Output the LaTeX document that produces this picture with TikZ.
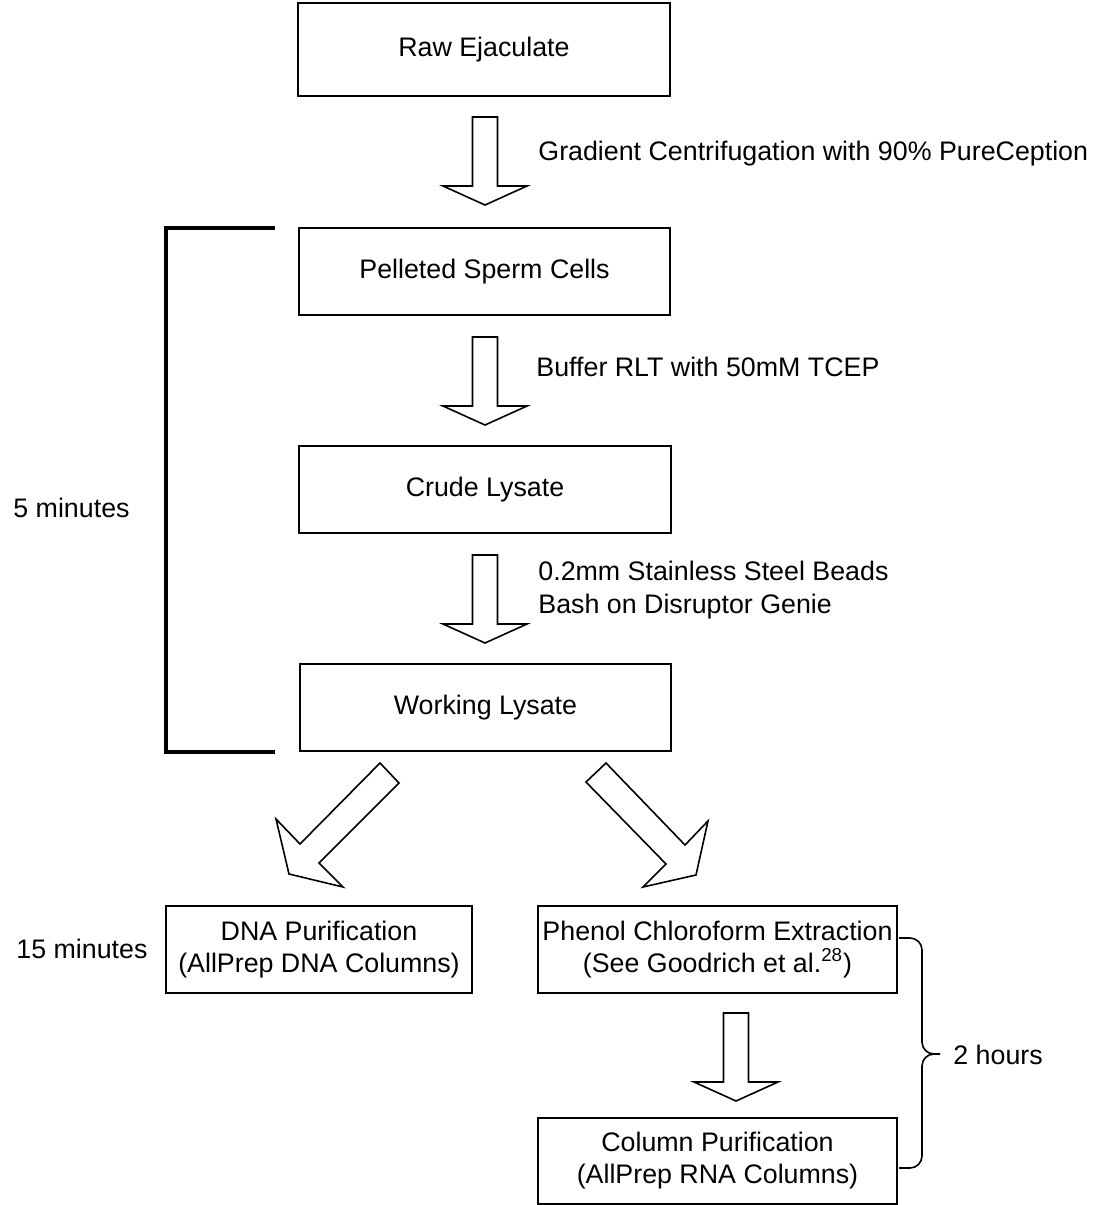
\documentclass[tikz,border=0pt]{standalone}
\usepackage{fontspec}
\setmainfont{Liberation Sans}
\begin{document}
\begin{tikzpicture}[x=0.5pt,y=-0.5pt,
  every node/.style={font=\fontsize{13.4}{16}\selectfont},
  box/.style={draw, line width=1pt, inner sep=0pt, align=center, minimum height=43.5pt},
  lbl/.style={inner sep=0pt, anchor=base west},
  arrowline/.style={draw, line width=0.8pt, fill=white, line join=miter},
  darr/.pic={\path[arrowline] (-12.5,0) -- (-12.5,69) -- (-42,69) -- (0,88) -- (42,69) -- (12.5,69) -- (12.5,0) -- cycle;}
]
\useasboundingbox (0,0) rectangle (1095,1205);

% boxes
\node[box, minimum width=186pt, minimum height=46.5pt] (raw) at (484,49.5) {Raw Ejaculate};
\node[box, minimum width=185.5pt] (pellet) at (484.5,271.5) {Pelleted Sperm Cells};
\node[box, minimum width=186pt] (crude) at (485,489.5) {Crude Lysate};
\node[box, minimum width=185.5pt] (working) at (485.5,707.5) {Working Lysate};
\node[box, minimum width=153pt] (dna) at (319,949.5) {DNA Purification\\(AllPrep DNA Columns)};
\node[box, minimum width=179.5pt] (phenol) at (717.5,949.5) {Phenol Chloroform Extraction\\(See Goodrich et al.\textsuperscript{28})};
\node[box, minimum width=179.5pt, minimum height=43pt] (column) at (717.5,1161) {Column Purification\\(AllPrep RNA Columns)};

% block arrows
\pic at (485,117) {darr};
\pic at (485,337) {darr};
\pic at (485,555) {darr};
\pic at (736,1013) {darr};

% diagonal block arrows
\path[arrowline] (380,763) -- (300,844) -- (276,819) -- (289,874) -- (343,887) -- (319,863) -- (399,783) -- cycle;
\path[arrowline] (606,763) -- (685,845) -- (708,821) -- (696,875) -- (643,887) -- (666,864) -- (586,782) -- cycle;

% labels
\node[lbl] (l1) at (538,160) {Gradient Centrifugation with 90\% PureCeption};
\node[lbl] (l2) at (536,376) {Buffer RLT with 50mM TCEP};
\node[lbl] (l3) at (538,580) {0.2mm Stainless Steel Beads};
\node[lbl] (l4) at (538,613) {Bash on Disruptor Genie};
\node[lbl] (t5) at (13,517) {5 minutes};
\node[lbl] (t15) at (16,958) {15 minutes};
\node[lbl] (t2) at (953,1064) {2 hours};

% bracket
\coordinate (bt) at (275,228);
\coordinate (bb) at (275,752);
\draw[line width=2pt, line cap=butt] (bt) -- (166,228) -- (166,752) -- (bb);

% brace
\coordinate (brt) at (899,938);
\coordinate (brb) at (899,1168);
\coordinate (brm) at (940,1054);
\draw[line width=0.8pt, rounded corners=6pt] (brt) -| (922,1054) -- (brm);
\draw[line width=0.8pt, rounded corners=6pt] (brb) -| (922,1054) -- (brm);
\end{tikzpicture}
\end{document}
